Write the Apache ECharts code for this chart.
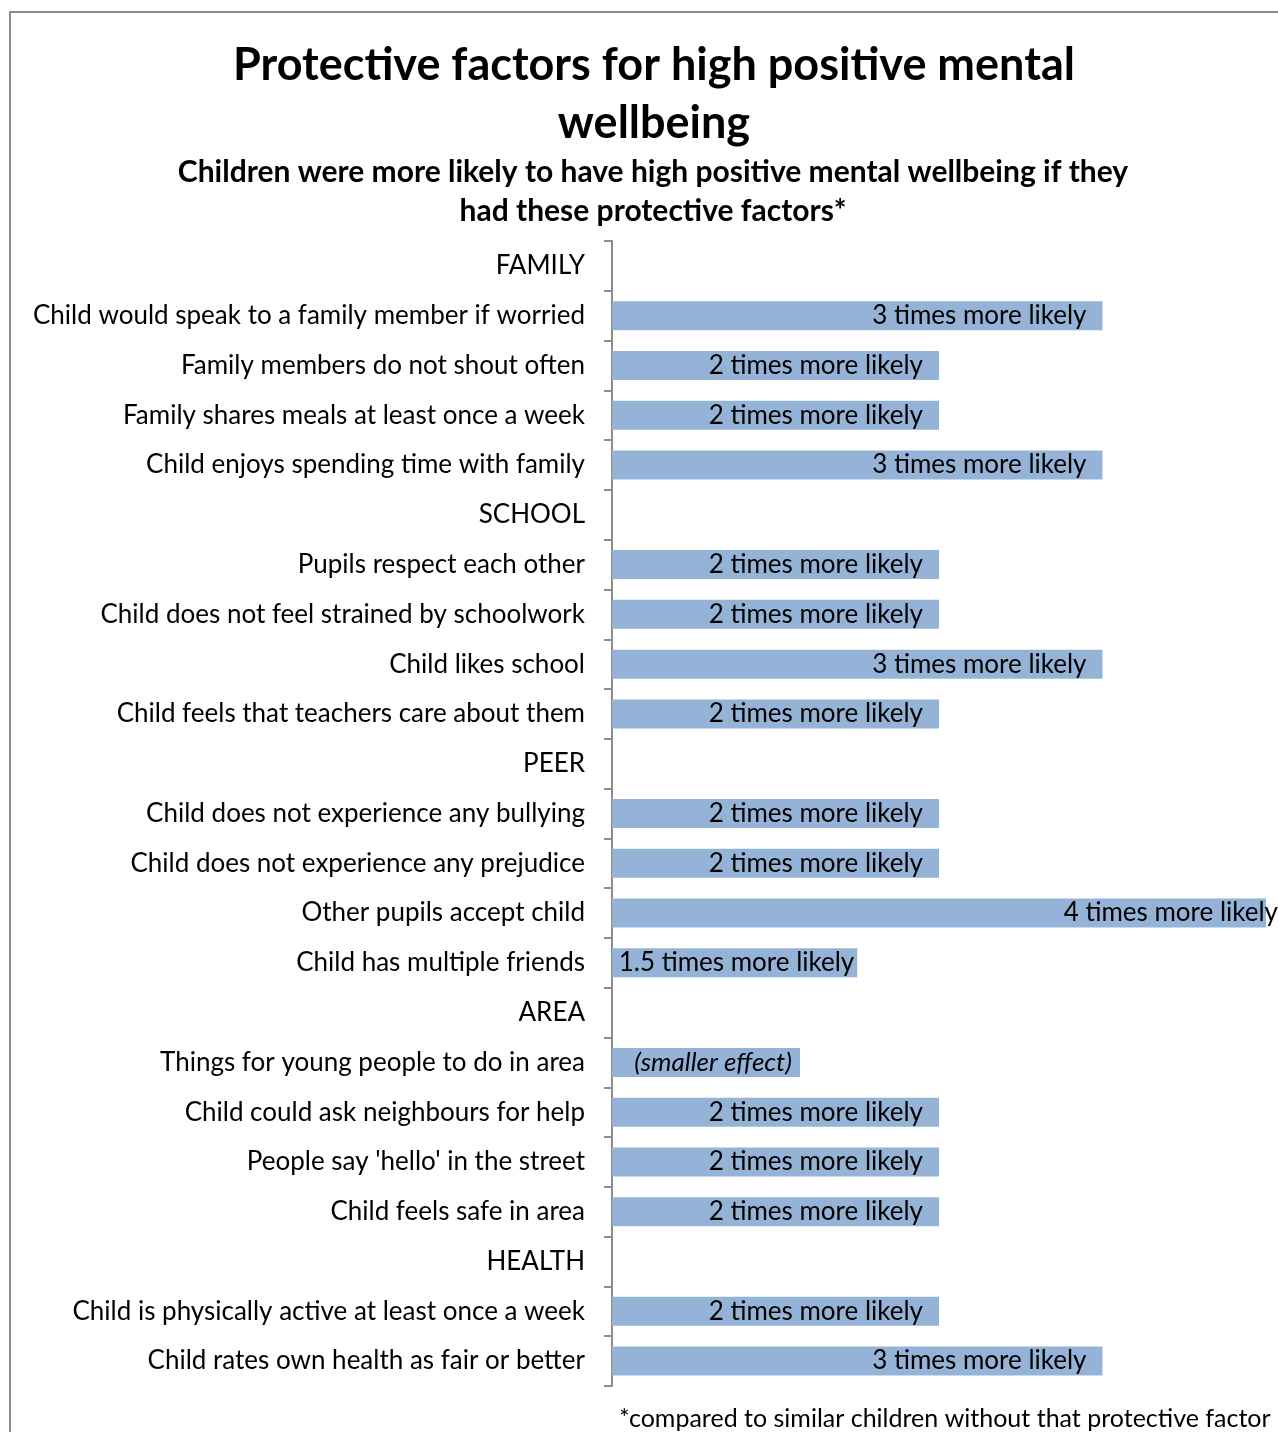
<!DOCTYPE html>
<html>
<head>
<meta charset="utf-8">
<script src="https://cdn.jsdelivr.net/npm/echarts@6/dist/echarts.min.js"></script>
<style>
  html, body { margin: 0; padding: 0; background: #fff; }
  #chart { width: 1278px; height: 1432px; }
</style>
</head>
<body>
<div id="chart"></div>
<script>
// rows top to bottom; section headers have no bar
const categories = [
  'FAMILY',
  'Child would speak to a family member if worried',
  'Family members do not shout often',
  'Family shares meals at least once a week',
  'Child enjoys spending time with family',
  'SCHOOL',
  'Pupils respect each other',
  'Child does not feel strained by schoolwork',
  'Child likes school',
  'Child feels that teachers care about them',
  'PEER',
  'Child does not experience any bullying',
  'Child does not experience any prejudice',
  'Other pupils accept child',
  'Child has multiple friends',
  'AREA',
  'Things for young people to do in area',
  'Child could ask neighbours for help',
  "People say 'hello' in the street",
  'Child feels safe in area',
  'HEALTH',
  'Child is physically active at least once a week',
  'Child rates own health as fair or better'
]
const oddsValues = [
  null, 3, 2, 2, 3,
  null, 2, 2, 3, 2,
  null, 2, 2, 4, 1.5,
  null, 1.15, 2, 2, 2,
  null, 2, 3
]
const barLabels = [
  '', '3 times more likely', '2 times more likely', '2 times more likely', '3 times more likely',
  '', '2 times more likely', '2 times more likely', '3 times more likely', '2 times more likely',
  '', '2 times more likely', '2 times more likely', '4 times more likely', '1.5 times more likely',
  '', '(smaller effect)', '2 times more likely', '2 times more likely', '2 times more likely',
  '', '2 times more likely', '3 times more likely'
]

const FONT = 'Lato, "Open Sans", sans-serif'
const chart = echarts.init(document.getElementById('chart'))

const seriesData = oddsValues.map((v, i) => {
  if (v == null) return '-'
  const item = { value: v, label: { formatter: barLabels[i] } }
  if (barLabels[i].startsWith('(')) {
    item.label.fontStyle = 'italic'
    item.label.distance = 8
  } else if (v >= 4) {
    item.label.offset = [28, 0]
  } else if (v < 2) {
    item.label.distance = 3
  }
  return item
})

chart.setOption({
  animation: false,
  backgroundColor: '#fff',
  title: [
    {
      text: 'Protective factors for high positive mental\nwellbeing',
      left: 649, top: 31, textAlign: 'center',
      textStyle: { fontFamily: FONT, fontSize: 45, fontWeight: 'bold', color: '#000', lineHeight: 58 }
    },
    {
      text: 'Children were more likely to have high positive mental wellbeing if they\nhad these protective factors*',
      left: 648, top: 148, textAlign: 'center',
      textStyle: { fontFamily: FONT, fontSize: 30, fontWeight: 'bold', color: '#000', lineHeight: 39 }
    },
    {
      text: '*compared to similar children without that protective factor',
      left: 614, top: 1401,
      textStyle: { fontFamily: FONT, fontSize: 25, fontWeight: 'normal', color: '#000' }
    }
  ],
  graphic: [
    {
      type: 'rect',
      shape: { x: 10, y: 12, width: 1400, height: 1500 },
      style: { fill: 'none', stroke: '#8c8c8c', lineWidth: 2 },
      silent: true
    }
  ],
  grid: { left: 612, right: 12, top: 241, bottom: 46 },
  xAxis: {
    type: 'value', min: 0, max: 4,
    axisLine: { show: false }, axisTick: { show: false },
    axisLabel: { show: false }, splitLine: { show: false }
  },
  yAxis: {
    type: 'category',
    inverse: true,
    data: categories,
    axisLine: { show: true, lineStyle: { color: '#8c8c8c', width: 2 } },
    axisTick: { show: true, length: 8, lineStyle: { color: '#8c8c8c', width: 2 } },
    axisLabel: { fontFamily: FONT, fontSize: 26, color: '#000', margin: 27, padding: [3, 0, 0, 0] }
  },
  series: [
    {
      type: 'bar',
      data: seriesData,
      barWidth: 29,
      itemStyle: { color: '#95b3d7' },
      label: {
        show: true,
        position: 'insideRight',
        distance: 16,
        fontFamily: FONT,
        fontSize: 26,
        color: '#000'
      }
    }
  ]
})
</script>
</body>
</html>
